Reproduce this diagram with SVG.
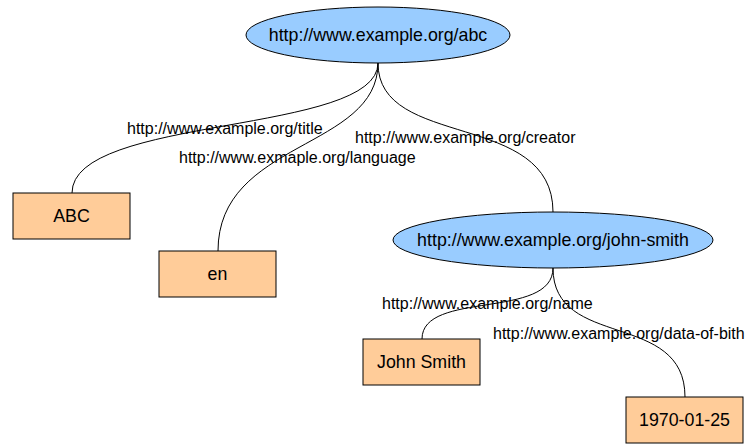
<svg xmlns="http://www.w3.org/2000/svg" width="746" height="446" viewBox="0 0 746 446">
<style>
.res{fill:#99ccff;stroke:#000;stroke-width:1}
.lit{fill:#ffcc99;stroke:#000;stroke-width:1}
.nt{font-family:"Liberation Sans",Arial,sans-serif;font-size:17.8px;fill:#000;text-anchor:middle}
.lb{font-family:"Liberation Sans",Arial,sans-serif;font-size:16px;fill:#000}
.edge{fill:none;stroke:#000;stroke-width:1}
</style>
<rect width="746" height="446" fill="#fff"/>
<g id="connectors">
<path class="edge" d="M378,63 C378,135 72,115 72,193"/>
<path class="edge" d="M378,63 C378,150 218,140 218,251"/>
<path class="edge" d="M378,63 C378,150 553,110 553,212"/>
<path class="edge" d="M553,268 C553,320 422,290 422,339"/>
<path class="edge" d="M553,268 C553,350 685,310 685,397"/>
<text class="lb" x="127" y="134">http://www.example.org/title</text>
<text class="lb" x="179" y="163">http://www.exmaple.org/language</text>
<text class="lb" x="355" y="143">http://www.example.org/creator</text>
<text class="lb" x="382" y="309">http://www.example.org/name</text>
<text class="lb" x="493" y="339">http://www.example.org/data-of-bith</text>
</g>
<g id="abc"><ellipse class="res" cx="378" cy="35" rx="132" ry="28"/><text class="nt" x="378" y="41">http://www.example.org/abc</text></g>
<g id="lit-abc"><rect class="lit" x="13" y="193" width="117" height="46"/><text class="nt" x="71.5" y="222">ABC</text></g>
<g id="lit-en"><rect class="lit" x="159" y="251" width="117" height="46"/><text class="nt" x="217.5" y="280">en</text></g>
<g id="john-smith"><ellipse class="res" cx="553" cy="240" rx="160" ry="28"/><text class="nt" x="553" y="246">http://www.example.org/john-smith</text></g>
<g id="lit-name"><rect class="lit" x="363" y="339" width="117" height="46"/><text class="nt" x="421.5" y="368">John Smith</text></g>
<g id="lit-date"><rect class="lit" x="626" y="397" width="117" height="46"/><text class="nt" x="684.5" y="426">1970-01-25</text></g>
</svg>
